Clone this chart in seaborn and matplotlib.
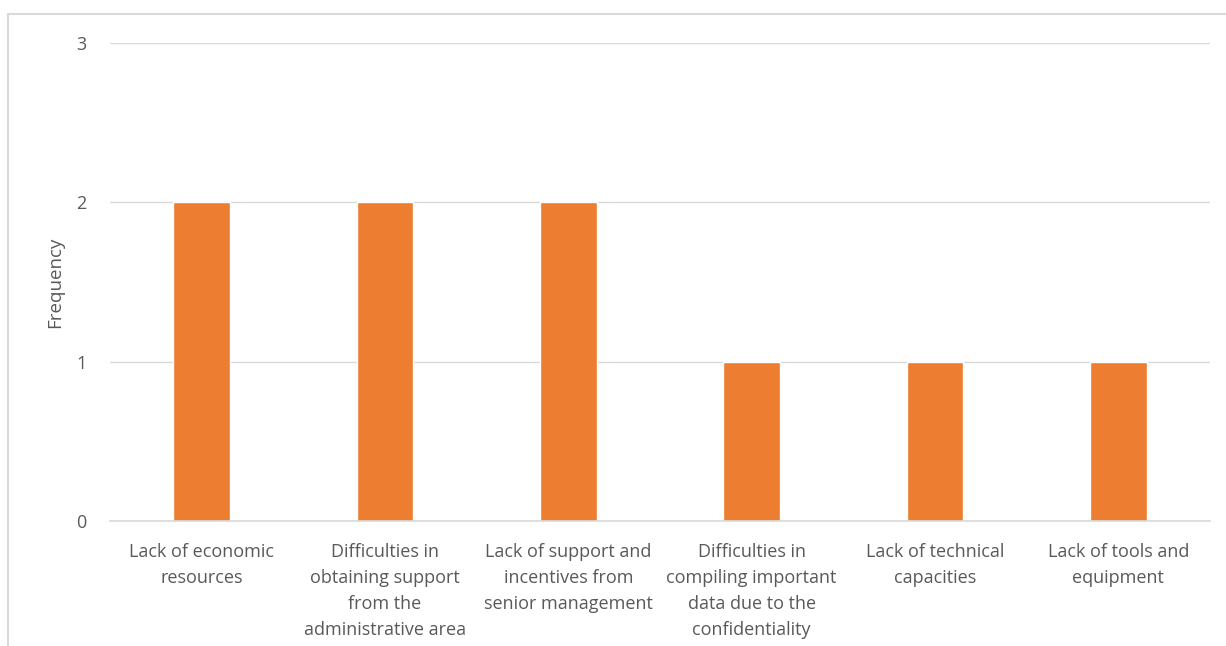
import matplotlib
matplotlib.use("Agg")
import matplotlib.pyplot as plt
import seaborn as sns
import pandas as pd
from matplotlib.lines import Line2D

# -------------------
# Data
categories = [
    "Lack of economic\nresources",
    "Difficulties in\nobtaining support\nfrom the\nadministrative area",
    "Lack of support and\nincentives from\nsenior management",
    "Difficulties in\ncompiling important\ndata due to the\nconfidentiality",
    "Lack of technical\ncapacities",
    "Lack of tools and\nequipment",
]
frequency = [2, 2, 2, 1, 1, 1]
y_ticks = [0, 1, 2, 3]

df = pd.DataFrame({"barrier": categories, "frequency": frequency})

# -------------------
# Plot
sns.set_style("white")
plt.rcParams["font.family"] = ["Open Sans", "DejaVu Sans"]

fig = plt.figure(figsize=(12.26, 6.46), dpi=100)
ax = fig.add_axes([110 / 1226, 1 - 521 / 646, 1100 / 1226, (521 - 43) / 646])

sns.barplot(data=df, x="barrier", y="frequency", color="#ED7D31",
            saturation=1, width=0.31, ax=ax)

ax.set_ylim(0, 3)
ax.set_yticks(y_ticks)
ax.set_yticklabels([str(t) for t in y_ticks], fontsize=13, color="#595959")
ax.tick_params(axis="y", length=0, pad=17)
ax.tick_params(axis="x", length=0, pad=16)
for lab in ax.get_xticklabels():
    lab.set_fontsize(13)
    lab.set_color("#595959")
    lab.set_linespacing(1.56)

ax.grid(axis="y", color="#D9D9D9", linewidth=1)
ax.set_axisbelow(True)
for side in ["top", "right", "left"]:
    ax.spines[side].set_visible(False)
ax.spines["bottom"].set_color("#D9D9D9")
ax.spines["bottom"].set_linewidth(1.2)

ax.set_xlabel("")
ax.set_ylabel("Frequency", fontsize=13.5, color="#595959")
ax.yaxis.set_label_coords(-46 / 1100, 0.5)

# chart border (Excel chart area outline)
bx, by = 8 / 1226, 1 - 14 / 646
fig.add_artist(Line2D([bx, 1], [by, by], transform=fig.transFigure, color="#D9D9D9", linewidth=1.5))
fig.add_artist(Line2D([bx, bx], [0, by], transform=fig.transFigure, color="#D9D9D9", linewidth=1.5))

fig.savefig("out.png", dpi=100)
